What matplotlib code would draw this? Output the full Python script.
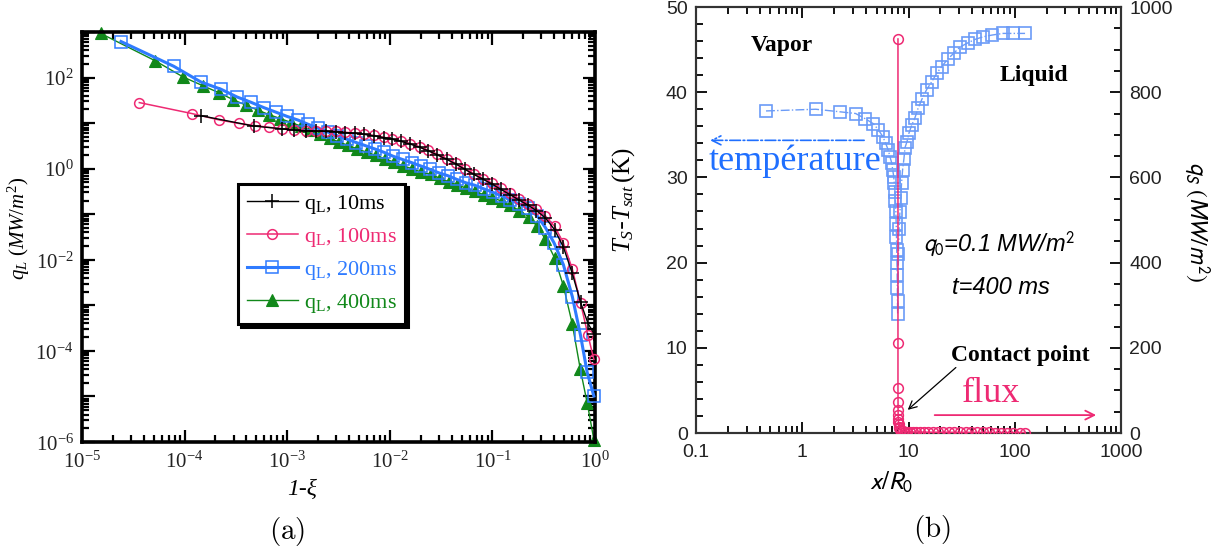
import matplotlib
matplotlib.use("Agg")
import matplotlib.pyplot as plt
from matplotlib.ticker import LogLocator, FuncFormatter, MultipleLocator, NullFormatter
import numpy as np

plt.rcParams['mathtext.fontset'] = 'custom'
plt.rcParams['mathtext.rm'] = 'Liberation Serif'
plt.rcParams['mathtext.it'] = 'Liberation Serif:italic'
plt.rcParams['mathtext.bf'] = 'Liberation Serif:bold'

# ---------------- (a) liquid-side flux vs 1-xi ----------------
x_10ms = [1.45e-4, 4.75e-4, 8.9e-4, 1.17e-3, 1.52e-3, 1.91e-3, 2.40e-3, 2.96e-3, 3.69e-3,
          4.59e-3, 5.66e-3, 7.05e-3, 8.69e-3, 1.06e-2, 1.30e-2, 1.59e-2, 1.95e-2, 2.38e-2,
          2.91e-2, 3.59e-2, 4.39e-2, 5.37e-2, 6.57e-2, 8.10e-2, 9.91e-2, 0.121, 0.148,
          0.182, 0.220, 0.269, 0.329, 0.403, 0.492, 0.601, 0.723, 0.855, 0.975]
q_10ms = [14.5, 8.6, 7.5, 7.0, 6.8, 6.7, 6.55, 6.5, 6.2, 5.95, 5.65, 5.25, 4.8, 4.4, 3.95,
          3.45, 2.95, 2.45, 2.0, 1.6, 1.27, 0.97, 0.75, 0.585, 0.46, 0.35, 0.27, 0.205,
          0.16, 0.12, 0.083, 0.046, 0.019, 5.0e-3, 1.17e-3, 4.0e-4, 2.4e-4]

x_100ms = [3.62e-5, 1.18e-4, 2.18e-4, 3.38e-4, 4.83e-4, 6.68e-4, 8.93e-4, 1.17e-3, 1.52e-3,
           1.91e-3, 2.40e-3, 2.96e-3, 3.69e-3, 4.59e-3, 5.66e-3, 7.05e-3, 8.69e-3, 1.06e-2,
           1.30e-2, 1.59e-2, 1.95e-2, 2.38e-2, 2.91e-2, 3.59e-2, 4.39e-2, 5.37e-2, 6.57e-2,
           8.10e-2, 9.91e-2, 0.121, 0.148, 0.182, 0.220, 0.269, 0.329, 0.403, 0.492, 0.601,
           0.723, 0.855, 0.975]
q_100ms = [28.2, 16.2, 11.7, 9.82, 8.83, 8.07, 7.52, 7.13, 6.87, 6.75, 6.63, 6.63, 6.29,
           6.06, 5.75, 5.36, 4.90, 4.48, 4.03, 3.55, 3.03, 2.53, 2.08, 1.65, 1.31, 1.00,
           0.778, 0.607, 0.481, 0.368, 0.286, 0.219, 0.171, 0.131, 0.0915, 0.0544, 0.0235,
           6.28e-3, 1.13e-3, 2.19e-4, 6.5e-5]

x_200ms = [2.40e-5, 7.83e-5, 1.45e-4, 2.26e-4, 3.24e-4, 4.43e-4, 5.91e-4, 7.76e-4, 1.00e-3,
           1.27e-3, 1.59e-3, 1.98e-3, 2.48e-3, 3.09e-3, 3.85e-3, 4.71e-3, 5.81e-3, 7.11e-3,
           8.85e-3, 1.08e-2, 1.33e-2, 1.63e-2, 2.00e-2, 2.47e-2, 3.02e-2, 3.69e-2, 4.47e-2,
           5.51e-2, 6.74e-2, 8.24e-2, 0.101, 0.123, 0.150, 0.183, 0.224, 0.274, 0.329,
           0.399, 0.492, 0.601, 0.723, 0.839, 0.975]
q_200ms = [618, 177, 79.3, 55.5, 37.5, 28.7, 21.9, 17.4, 14.0, 11.7, 9.48, 7.78, 6.40, 5.26,
           4.40, 3.75, 3.19, 2.72, 2.27, 1.87, 1.59, 1.36, 1.15, 0.964, 0.807, 0.700, 0.585,
           0.490, 0.432, 0.361, 0.303, 0.253, 0.204, 0.168, 0.136, 0.0915, 0.0507, 0.0235,
           7.78e-3, 1.56e-3, 2.19e-4, 3.36e-5, 1.02e-5]

x_400ms = [1.52e-5, 5.14e-5, 9.6e-5, 1.50e-4, 2.16e-4, 2.99e-4, 3.95e-4, 5.14e-4, 6.68e-4,
           8.55e-4, 1.08e-3, 1.35e-3, 1.67e-3, 2.08e-3, 2.59e-3, 3.18e-3, 3.92e-3, 4.83e-3,
           5.97e-3, 7.29e-3, 8.99e-3, 1.10e-2, 1.35e-2, 1.65e-2, 2.03e-2, 2.51e-2, 3.07e-2,
           3.75e-2, 4.55e-2, 5.56e-2, 6.81e-2, 8.24e-2, 0.100, 0.123, 0.150, 0.183, 0.226,
           0.271, 0.329, 0.403, 0.492, 0.601, 0.718, 0.840, 0.975]
q_400ms = [931, 235, 104, 66.4, 46.5, 32.5, 24.8, 19.4, 15.3, 12.6, 10.4, 8.67, 7.0, 5.75,
           4.65, 3.88, 3.25, 2.72, 2.28, 1.97, 1.65, 1.38, 1.15, 1.0, 0.836, 0.752, 0.618,
           0.516, 0.44, 0.375, 0.319, 0.267, 0.231, 0.194, 0.156, 0.120, 0.0883, 0.0555,
           0.0282, 0.0111, 2.67e-3, 3.88e-4, 4.03e-5, 7.13e-6, 1.13e-6]

labels_a = [r'$\mathrm{q_L}$, 10ms', r'$\mathrm{q_L}$, 100ms',
            r'$\mathrm{q_L}$, 200ms', r'$\mathrm{q_L}$, 400ms']

# ---------------- (b) temperature and flux along the surface ----------------
x_temp = [0.456, 1.34, 2.26, 3.18, 3.90, 4.67, 5.20, 5.72, 6.10, 6.45, 6.70, 6.95, 7.10,
          7.26, 7.35, 7.46, 7.54, 7.60, 7.66, 7.71, 7.75, 7.79, 7.82, 7.85, 7.88, 7.90,
          8.05, 8.15, 8.30, 8.45, 8.60, 8.80, 9.06, 9.27, 9.68, 10.1, 10.7, 11.5, 12.3,
          13.4, 14.8, 16.5, 18.4, 20.5, 23.5, 26.8, 30.5, 36.3, 42.3, 50.3, 60.7, 77.5,
          96.4, 125]
T_temp = [37.8, 38.0, 37.7, 37.5, 36.9, 36.3, 35.6, 34.8, 34.0, 33.2, 32.4, 31.7, 30.9,
          30.1, 29.3, 28.3, 27.2, 26.0, 24.5, 23.0, 21.5, 20.0, 18.5, 17.0, 15.5, 14.0,
          21.0, 24.0, 25.9, 27.6, 29.3, 30.9, 32.2, 33.5, 34.2, 35.2, 36.1, 37.0, 38.1,
          39.2, 40.3, 41.2, 42.2, 43.0, 43.9, 44.6, 45.3, 45.8, 46.2, 46.5, 46.7, 46.9,
          46.9, 46.9]

x_flux = [7.96, 7.96, 7.96, 7.97, 7.98, 7.99, 8.01, 8.04, 8.08, 8.14, 8.22, 8.35, 8.5,
          8.8, 9.2, 9.7, 10.3, 11.0, 11.8, 12.8, 14.0, 15.4, 17.0, 19.0, 21.3, 24.0, 27.0,
          30.5, 34.5, 39.0, 44.0, 50.0, 57.0, 65.0, 74.0, 85.0, 97.0, 111, 125]
q_flux = [925, 211, 105, 73, 54, 42, 33, 26, 20, 15, 11, 8, 6, 4.5, 3.5, 3.0, 2.6, 2.3,
          2.1, 2.0, 1.9, 1.8, 1.7, 1.6, 1.5, 1.5, 1.4, 1.4, 1.3, 1.3, 1.2, 1.2, 1.2, 1.1,
          1.1, 1.1, 1.0, 1.0, 1.0]

W, H = 1223, 554
fig = plt.figure(figsize=(W / 100, H / 100), dpi=100)


def fx(px):
    return px / W


def fy(py):
    return 1 - py / H


BLACK = '#000000'
PINK = '#ee2a73'
BLUE = '#2f7bff'
GREEN = '#11881a'

# ---------- panel (a) ----------
axL = fig.add_axes([fx(82), fy(442), (595 - 82) / W, (442 - 32) / H])
axL.plot(x_10ms, q_10ms, color=BLACK, lw=1.0, marker='+', ms=10, mew=1.1,
         label=labels_a[0], clip_on=False, zorder=5)
axL.plot(x_100ms, q_100ms, color=PINK, lw=1.1, marker='o', ms=7, mfc='none', mew=1.1,
         label=labels_a[1], clip_on=False, zorder=4)
axL.plot(x_200ms, q_200ms, color=BLUE, lw=2.2, marker='s', ms=8.5, mfc='none', mew=1.1,
         label=labels_a[2], clip_on=False, zorder=3)
axL.plot(x_400ms, q_400ms, color=GREEN, lw=1.0, marker='^', ms=8.5, mew=0.8,
         label=labels_a[3], clip_on=False, zorder=2)
axL.set_xscale('log')
axL.set_yscale('log')
axL.set_xlim(1e-5, 1e0)
axL.set_ylim(1e-6, 1e3)

axL.xaxis.set_major_locator(LogLocator(base=10, numticks=20))
axL.yaxis.set_major_locator(LogLocator(base=10, numticks=20))
axL.xaxis.set_minor_locator(LogLocator(base=10, subs=np.arange(2, 10), numticks=20))
axL.yaxis.set_minor_locator(LogLocator(base=10, subs=np.arange(2, 10), numticks=20))
axL.xaxis.set_minor_formatter(NullFormatter())
axL.yaxis.set_minor_formatter(NullFormatter())


def pow_fmt(v, pos):
    e = int(round(np.log10(v)))
    return r'$\mathrm{10^{%d}}$' % e


def pow_fmt_even(v, pos):
    e = int(round(np.log10(v)))
    return r'$\mathrm{10^{%d}}$' % e if e % 2 == 0 else ''


axL.xaxis.set_major_formatter(FuncFormatter(pow_fmt))
axL.yaxis.set_major_formatter(FuncFormatter(pow_fmt_even))
axL.tick_params(which='both', direction='in', top=True, right=True, width=1.6,
                labelsize=15, labelcolor='#222222', pad=6)
axL.tick_params(which='major', length=9)
axL.tick_params(which='minor', length=5)
for s in axL.spines.values():
    s.set_linewidth(2.6)

leg = axL.legend(loc='upper left', bbox_to_anchor=(0.304, 0.629), borderaxespad=0,
                 prop={'family': 'Liberation Serif', 'size': 16}, labelcolor='linecolor',
                 handlelength=2.3, handletextpad=0.25, labelspacing=0.45, borderpad=0.4,
                 fancybox=False, edgecolor='black', framealpha=1,
                 shadow={'color': 'black', 'alpha': 1.0})
leg.get_frame().set_linewidth(2.2)

fig.text(fx(302), fy(489), '1-ξ', fontsize=17, style='italic', family='Liberation Serif',
         ha='center', va='center')
fig.text(fx(19), fy(228), r'$q_L\ (MW/m^2)$', fontsize=15, rotation=90,
         ha='center', va='center')
fig.text(fx(287), fy(531), r'$\mathrm{(a)}$', fontsize=21, ha='center', va='center',
         math_fontfamily='cm')

# ---------- panel (b) ----------
TBLUE = '#6b9bf7'
axR = fig.add_axes([fx(696), fy(433), (1121 - 696) / W, (433 - 7) / H])
axR.plot(x_temp, T_temp, color=TBLUE, lw=1.0, ls='-.', marker='s', ms=8.5,
         mfc='none', mew=1.2, zorder=3)
axR.set_xscale('log')
axR.set_xlim(0.1, 1000)
axR.set_ylim(0, 50)
axR.yaxis.set_major_locator(MultipleLocator(10))
axR.yaxis.set_minor_locator(MultipleLocator(2))
axR.xaxis.set_major_locator(LogLocator(base=10, numticks=20))
axR.xaxis.set_minor_locator(LogLocator(base=10, subs=np.arange(2, 10), numticks=20))
axR.xaxis.set_minor_formatter(NullFormatter())
axR.xaxis.set_major_formatter(FuncFormatter(lambda v, p: '%g' % v))

axR2 = axR.twinx()
axR2.plot(x_flux, q_flux, color=PINK, lw=1.1, marker='o', ms=7, mfc='none', mew=1.1,
          zorder=4)
axR2.set_ylim(0, 1000)
axR2.yaxis.set_major_locator(MultipleLocator(200))
axR2.yaxis.set_minor_locator(MultipleLocator(50))

for a in (axR, axR2):
    for s in a.spines.values():
        s.set_linewidth(1.5)
        s.set_color('#333333')
axR.tick_params(which='both', direction='in', top=True, width=1.3,
                labelsize=14, labelcolor='#222222', labelfontfamily='Liberation Sans')
axR.tick_params(which='major', length=8)
axR.tick_params(which='minor', length=5)
axR.tick_params(axis='x', pad=8)
axR.tick_params(axis='y', pad=6)
axR2.tick_params(which='both', direction='in', width=1.3, labelsize=14,
                 labelcolor='#222222', labelfontfamily='Liberation Sans', pad=6)
axR2.tick_params(which='major', length=8)
axR2.tick_params(which='minor', length=5)

fig.text(fx(624), fy(200), r'$T_S$-$T_{sat}\,\mathrm{(K)}$', fontsize=18, rotation=90,
         ha='center', va='center')
fig.text(fx(1197), fy(222), r'$q_S\ (MW/m^2)$', fontsize=17, rotation=270,
         ha='center', va='center', math_fontfamily='stixsans')
fig.text(fx(891), fy(482), r'$x/R_0$', fontsize=18, ha='center', va='center',
         math_fontfamily='stixsans')
fig.text(fx(932), fy(530), r'$\mathrm{(b)}$', fontsize=21, ha='center', va='center',
         math_fontfamily='cm')

serif = 'Liberation Serif'
fig.text(fx(782), fy(46), 'Vapor', fontsize=17, fontweight='bold', family=serif,
         ha='center', va='center')
fig.text(fx(1034), fy(76), 'Liquid', fontsize=17, fontweight='bold', family=serif,
         ha='center', va='center')
fig.text(fx(1020), fy(355), 'Contact point', fontsize=17, fontweight='bold',
         family=serif, ha='center', va='center')
fig.text(fx(795), fy(161), 'température', fontsize=26, family=serif, color='#1f6fff',
         ha='center', va='center')
fig.text(fx(991), fy(394), 'flux', fontsize=26, family=serif, color=PINK,
         ha='center', va='center')
fig.text(fx(999), fy(244), r'$q_0$=0.1 MW/m$^2$', fontsize=17, style='italic',
         family='Liberation Sans', ha='center', va='center', math_fontfamily='stixsans')
fig.text(fx(1001), fy(288), 't=400 ms', fontsize=17, style='italic',
         family='Liberation Sans', ha='center', va='center')

# arrows
axR.annotate('', xy=(0.128, 34.35), xytext=(4.06, 34.35),
             arrowprops=dict(arrowstyle='->', color='#1f6fff', lw=1.2, ls='-.',
                             mutation_scale=16))
axR.annotate('', xy=(620, 2.1), xytext=(16.6, 2.1),
             arrowprops=dict(arrowstyle='->', color=PINK, lw=1.3, mutation_scale=16))
axR.annotate('', xy=(9.4, 2.5), xytext=(29.2, 7.9),
             arrowprops=dict(arrowstyle='->', color='black', lw=0.9, mutation_scale=14))

fig.savefig('out.png', dpi=100)
